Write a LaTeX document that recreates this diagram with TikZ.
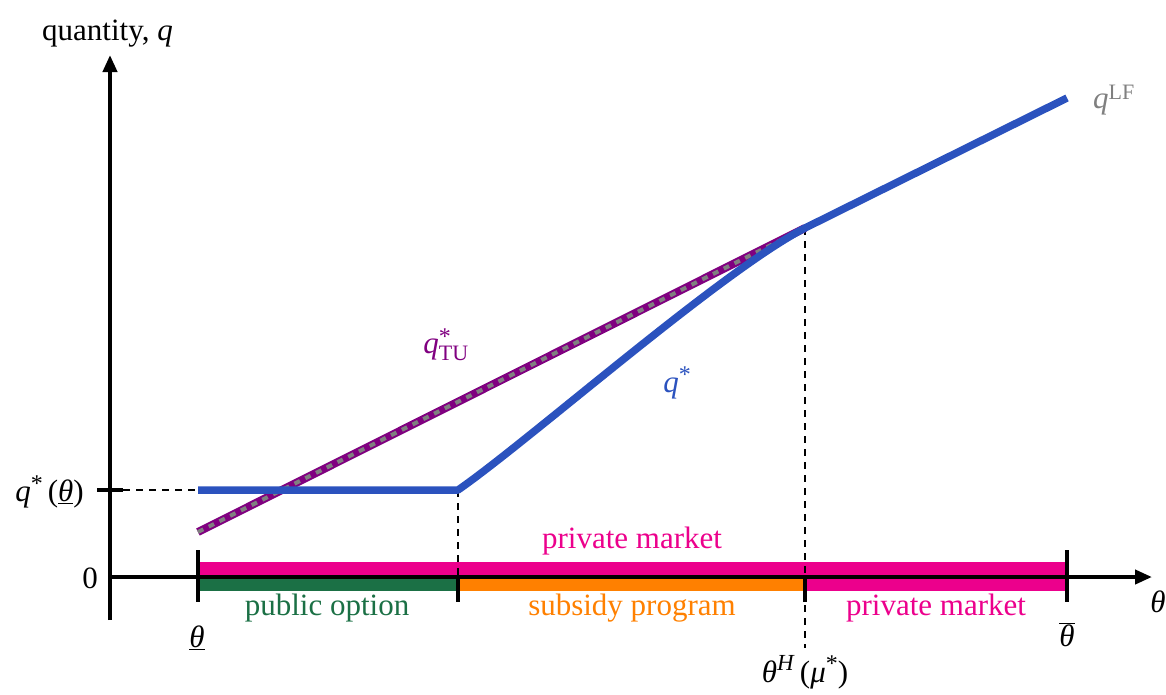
\documentclass[tikz,border=0pt]{standalone}
\usepackage{fontspec}
\setmainfont{Liberation Serif}
\usetikzlibrary{arrows.meta}
\definecolor{cblue}{HTML}{2B52BE}
\definecolor{cpink}{HTML}{EC008C}
\definecolor{cgreen}{HTML}{1B7045}
\definecolor{corange}{HTML}{FF8000}
\definecolor{cpurple}{HTML}{800080}
\definecolor{cgray}{HTML}{808080}
\newcommand{\sstar}{\raisebox{0.35em}{\fontsize{24}{24}\selectfont *}}
\begin{document}
\begin{tikzpicture}[x=1pt,y=-1pt,
  lab/.style={font=\fontsize{31}{36}\selectfont, inner sep=0pt},
  axis/.style={line width=4pt, -{Triangle[length=17pt,width=14pt]}},
  tick/.style={line width=4pt},
  guide/.style={line width=2.4pt, dash pattern=on 7pt off 6pt},
  bar/.style={line width=0pt}]
\useasboundingbox (0,0) rectangle (1166,694);
% coordinates
\coordinate (O) at (110,577);
\coordinate (ytop) at (110,55);
\coordinate (ybot) at (110,620);
\coordinate (xend) at (1152,577);
\coordinate (tl) at (198,577);
\coordinate (tm) at (458,577);
\coordinate (th) at (805,577);
\coordinate (tr) at (1067,577);
\coordinate (q0) at (198,490);
\coordinate (k1) at (458,490);
\coordinate (k2) at (805,228);
\coordinate (lf) at (1067,98);
\coordinate (tu0) at (198,532);
% bars
\fill[cpink] (198,562) rectangle (1067,576);
\fill[cgreen] (198,578) rectangle (458,591);
\fill[corange] (458,578) rectangle (805,591);
\fill[cpink] (805,578) rectangle (1067,591);
% axes
\draw[axis] (ybot) -- (ytop);
\draw[axis] (O) -- (xend);
% ticks
\draw[tick] (198,550) -- (198,602);
\draw[tick] (1067,550) -- (1067,602);
\draw[tick] (458,577) -- (458,602);
\draw[tick] (805,577) -- (805,602);
\draw[tick] (97,490) -- (123,490);
% guides
\draw[guide] (123,490) -- (q0);
\draw[guide] (k1) -- (tm);
\draw[guide] (k2) -- (805,648);
% TU line
\draw[cpurple, line width=8pt] (tu0) -- (k2);
\draw[cgray, line width=4pt, dash pattern=on 6pt off 6pt] (tu0) -- (k2);
% q* line
\draw[cblue, line width=7.5pt, line join=round] (q0) -- (k1) .. controls (530,440) and (720,272) .. (k2) -- (lf);
% labels
\node[lab, anchor=base west] (ylab) at (42,40) {quantity, \textit{q}};
\node[lab, anchor=east] (qlab) at (84,492) {\textit{q}\sstar\,(\underline{\textit{θ}})};
\node[lab, anchor=east] (zlab) at (98,578) {0};
\node[lab] (tl_lab) at (197,638) {\underline{\textit{θ}}};
\node[lab] (tr_lab) at (1067,635) {$\overline{\hbox{\textit{θ}}}$};
\node[lab] (xlab) at (1158,602) {\textit{θ}};
\node[lab] (thlab) at (805,672) {\textit{θ}\raisebox{0.4em}{\fontsize{23}{24}\selectfont\textit{H}}\,(\textit{μ}\sstar)};
\node[lab, text=cpink] (pm1) at (632,541) {private market};
\node[lab, text=cgreen] (po) at (327,608) {public option};
\node[lab, text=corange] (sp) at (632,608) {subsidy program};
\node[lab, text=cpink] (pm2) at (936,608) {private market};
\node[lab, text=cgray, anchor=west] (lflab) at (1093,100) {\textit{q}$^{\hbox{\fontsize{22}{24}\selectfont LF}}$};
\node[lab, text=cpurple] (tulab) at (446,345) {\textit{q}$^{\hbox{\fontsize{24}{24}\selectfont *}}_{\hbox{\fontsize{22}{24}\selectfont TU}}$};
\node[lab, text=cblue] (qslab) at (677,383) {\textit{q}\sstar};
\end{tikzpicture}
\end{document}
